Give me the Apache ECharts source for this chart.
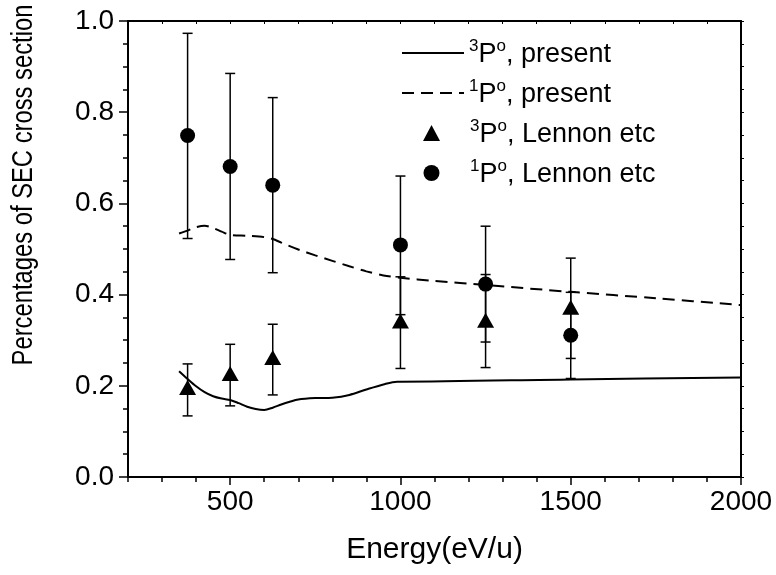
<!DOCTYPE html>
<html>
<head>
<meta charset="utf-8">
<script src="https://cdn.jsdelivr.net/npm/echarts@6/dist/echarts.min.js"></script>
<style>
  html, body { margin: 0; padding: 0; background: #fff; }
  #chart { width: 776px; height: 575px; }
</style>
</head>
<body>
<div id="chart"></div>
<script>
  // curves
  var tripletCurve = [[350,0.232],[375,0.215],[400,0.199],[425,0.186],[450,0.177],[475,0.172],[500,0.169],[525,0.162],[550,0.154],[575,0.149],[600,0.147],[625,0.152],[650,0.159],[675,0.165],[700,0.170],[750,0.173],[800,0.174],[850,0.180],[900,0.192],[950,0.203],[990,0.209],[1000,0.209],[1500,0.214],[2000,0.218]];
  var singletCurve = [[350,0.534],[380,0.542],[400,0.548],[425,0.551],[450,0.546],[475,0.538],[500,0.531],[550,0.529],[600,0.526],[625,0.522],[650,0.514],[700,0.499],[750,0.486],[800,0.474],[850,0.462],[900,0.451],[950,0.442],[1000,0.437],[1100,0.430],[1250,0.421],[1500,0.406],[1750,0.392],[2000,0.377]];

  // Lennon etc measurements
  var expEnergy = [375, 500, 625, 1000, 1250, 1500];
  var tripletExp = [0.196, 0.227, 0.262, 0.342, 0.344, 0.372];
  var tripletLow = [0.134, 0.156, 0.180, 0.238, 0.240, 0.260];
  var tripletHigh = [0.248, 0.291, 0.335, 0.439, 0.444, 0.480];
  var singletExp = [0.749, 0.681, 0.640, 0.509, 0.423, 0.311];
  var singletLow = [0.523, 0.477, 0.448, 0.356, 0.296, 0.216];
  var singletHigh = [0.973, 0.885, 0.832, 0.660, 0.550, 0.405];

  var xMajor = [500, 1000, 1500, 2000];
  var xMinor = [200, 300, 400, 600, 700, 800, 900, 1100, 1200, 1300, 1400, 1600, 1700, 1800, 1900];
  var xAll = [300, 400, 500, 600, 700, 800, 900, 1000, 1100, 1200, 1300, 1400, 1500, 1600, 1700, 1800, 1900];

  var legendText = {
    '3P present': '{sup|3}{t|P}{sup|o}{t|, present}',
    '1P present': '{sup|1}{t|P}{sup|o}{t|, present}',
    '3P Lennon': '{pad|}{sup|3}{t|P}{sup|o}{t|, Lennon etc}',
    '1P Lennon': '{pad|}{sup|1}{t|P}{sup|o}{t|, Lennon etc}'
  };

  var font = 'Liberation Sans, Arial, sans-serif';

  function pairs(xs, ys) {
    var out = [];
    for (var i = 0; i < xs.length; i++) out.push([xs[i], ys[i]]);
    return out;
  }
  function bars(xs, lo, hi) {
    var out = [];
    for (var i = 0; i < xs.length; i++) out.push([xs[i], lo[i], hi[i]]);
    return out;
  }

  function errorBar(params, api) {
    var top = api.coord([api.value(0), api.value(2)]);
    var bot = api.coord([api.value(0), api.value(1)]);
    var w = 5;
    var st = { stroke: '#000', lineWidth: 1.5 };
    return {
      type: 'group',
      children: [
        { type: 'line', shape: { x1: top[0], y1: top[1], x2: bot[0], y2: bot[1] }, style: st },
        { type: 'line', shape: { x1: top[0] - w, y1: top[1], x2: top[0] + w, y2: top[1] }, style: st },
        { type: 'line', shape: { x1: bot[0] - w, y1: bot[1], x2: bot[0] + w, y2: bot[1] }, style: st }
      ]
    };
  }

  var legendRich = {
    t: { fontFamily: font, fontSize: 27, color: '#000', lineHeight: 30, verticalAlign: 'bottom' },
    sup: { fontFamily: font, fontSize: 17, color: '#000', lineHeight: 30, verticalAlign: 'top' },
    pad: { width: 25, lineHeight: 30 }
  };
  function legendFmt(name) { return legendText[name]; }

  var chart = echarts.init(document.getElementById('chart'));
  chart.setOption({
    animation: false,
    backgroundColor: '#fff',
    grid: { left: 128, right: 35, top: 21, bottom: 98 },
    legend: [
      {
        data: [
          { name: '3P present', itemStyle: { opacity: 0 } },
          { name: '1P present', itemStyle: { opacity: 0 } }
        ],
        orient: 'vertical', left: 396, top: 33,
        itemWidth: 62, itemHeight: 17, itemGap: 10,
        selectedMode: false, formatter: legendFmt,
        textStyle: { color: '#000', rich: legendRich }
      },
      {
        data: ['3P Lennon', '1P Lennon'],
        orient: 'vertical', left: 418, top: 113,
        itemWidth: 17, itemHeight: 16, itemGap: 10,
        selectedMode: false, formatter: legendFmt,
        textStyle: { color: '#000', rich: legendRich }
      }
    ],
    xAxis: [
      {
        type: 'value', min: 200, max: 2000, position: 'bottom',
        name: 'Energy(eV/u)', nameLocation: 'middle', nameGap: 58,
        nameTextStyle: { fontFamily: font, fontSize: 30, color: '#000' },
        axisLine: { lineStyle: { color: '#000', width: 2 } },
        axisTick: { customValues: xMajor, length: 8, lineStyle: { color: '#000', width: 1.5 } },
        axisLabel: { customValues: xMajor, fontFamily: font, fontSize: 28, color: '#000', margin: 11,
          formatter: function (v) { return String(v); } },
        splitLine: { show: false }
      },
      {
        type: 'value', min: 200, max: 2000, position: 'bottom',
        axisLine: { show: false },
        axisTick: { customValues: xMinor, length: 5, lineStyle: { color: '#000', width: 1.5 } },
        axisLabel: { show: false },
        splitLine: { show: false }
      },
      {
        type: 'value', min: 200, max: 2000, position: 'top',
        axisLine: { lineStyle: { color: '#000', width: 2 } },
        axisTick: { customValues: xAll, inside: true, length: 3, lineStyle: { color: '#000', width: 1 } },
        axisLabel: { show: false },
        splitLine: { show: false }
      }
    ],
    yAxis: [
      {
        type: 'value', min: 0, max: 1, interval: 0.2, position: 'left',
        axisLine: { lineStyle: { color: '#000', width: 2 } },
        axisTick: { length: 9, lineStyle: { color: '#000', width: 1.5 } },
        minorTick: { show: true, splitNumber: 4, length: 5, lineStyle: { color: '#000', width: 1.5 } },
        axisLabel: { fontFamily: font, fontSize: 28, color: '#000', margin: 14,
          formatter: function (v) { return v.toFixed(1); } },
        splitLine: { show: false }
      },
      {
        type: 'value', min: 0, max: 1, interval: 0.2, position: 'right',
        axisLine: { lineStyle: { color: '#000', width: 2 } },
        axisTick: { length: 3, lineStyle: { color: '#000', width: 1 } },
        minorTick: { show: true, splitNumber: 4, length: 3, lineStyle: { color: '#000', width: 1 } },
        axisLabel: { show: false },
        splitLine: { show: false }
      }
    ],
    graphic: [{
      type: 'text',
      x: 24, y: 185,
      rotation: Math.PI / 2,
      scaleX: 0.82,
      style: {
        text: 'Percentages of SEC cross section',
        fontFamily: font,
        fontSize: 29,
        fill: '#000',
        align: 'center',
        verticalAlign: 'middle'
      }
    }],
    series: [
      {
        name: '1P present', type: 'line', data: singletCurve, symbol: 'none', smooth: 0.3,
        lineStyle: { color: '#000', width: 2, type: [12, 7] }, itemStyle: { color: '#000' }, z: 2
      },
      {
        name: '3P present', type: 'line', data: tripletCurve, symbol: 'none', smooth: 0.3,
        lineStyle: { color: '#000', width: 2, type: 'solid' }, itemStyle: { color: '#000' }, z: 2
      },
      { type: 'custom', renderItem: errorBar, data: bars(expEnergy, tripletLow, tripletHigh), z: 3 },
      { type: 'custom', renderItem: errorBar, data: bars(expEnergy, singletLow, singletHigh), z: 3 },
      {
        name: '3P Lennon', type: 'scatter', data: pairs(expEnergy, tripletExp),
        symbol: 'triangle', symbolSize: [17, 15],
        itemStyle: { color: '#000', opacity: 1 }, z: 4
      },
      {
        name: '1P Lennon', type: 'scatter', data: pairs(expEnergy, singletExp),
        symbol: 'circle', symbolSize: 15,
        itemStyle: { color: '#000', opacity: 1 }, z: 4
      }
    ]
  });
</script>
</body>
</html>
